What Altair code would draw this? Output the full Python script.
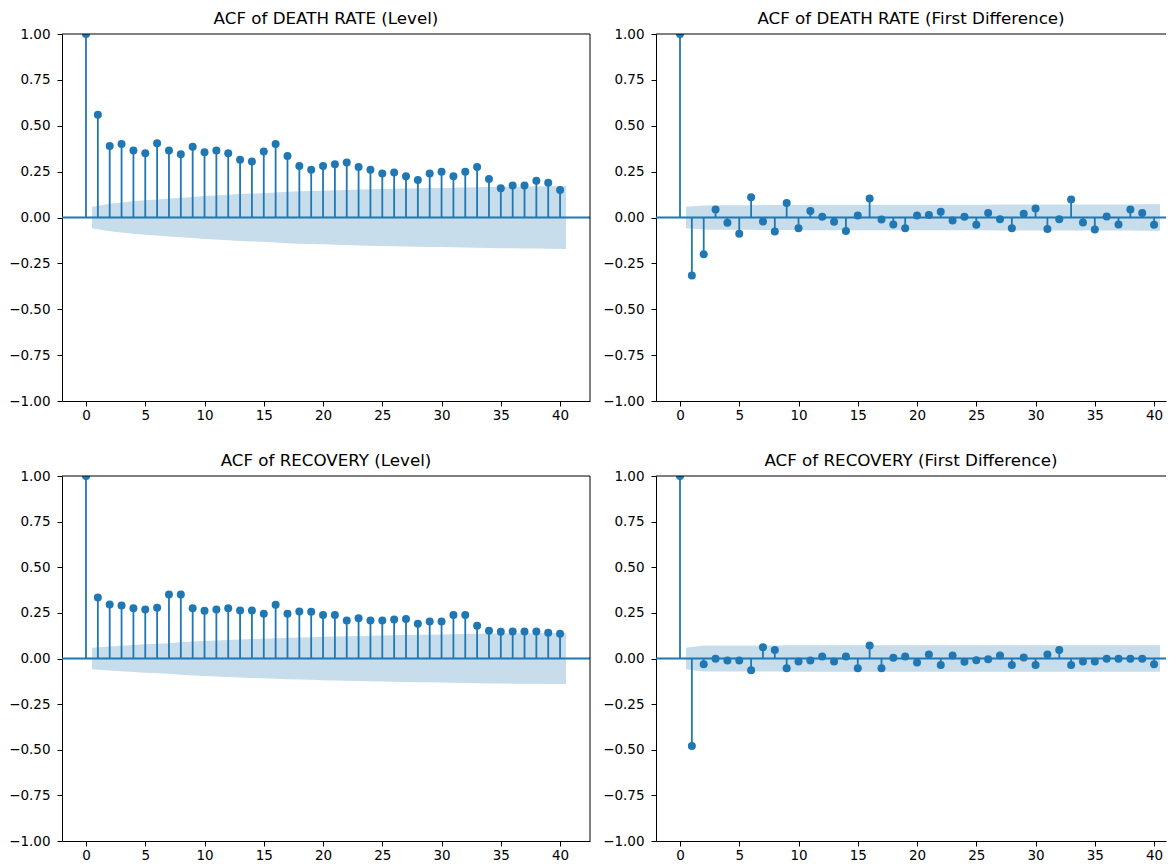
import altair as alt
import numpy as np
import pandas as pd

LAGS = list(range(41))
Y_TICKS = [-1.0, -0.75, -0.5, -0.25, 0.0, 0.25, 0.5, 0.75, 1.0]
X_TICKS = [0, 5, 10, 15, 20, 25, 30, 35, 40]
NOBS = 1100  # estimated sample size (from band width at lag 1)

TITLES = [
    "ACF of DEATH RATE (Level)",
    "ACF of DEATH RATE (First Difference)",
    "ACF of RECOVERY (Level)",
    "ACF of RECOVERY (First Difference)",
]

death_level = [1.0, 0.56, 0.39, 0.40, 0.365, 0.35, 0.405, 0.365, 0.345, 0.385,
               0.355, 0.365, 0.35, 0.315, 0.305, 0.36, 0.40, 0.335, 0.28, 0.26,
               0.28, 0.29, 0.30, 0.275, 0.26, 0.24, 0.245, 0.225, 0.205, 0.24,
               0.25, 0.225, 0.25, 0.275, 0.21, 0.16, 0.175, 0.175, 0.20, 0.19,
               0.15]

death_diff = [1.0, -0.316, -0.200, 0.043, -0.029, -0.089, 0.110, -0.022, -0.076, 0.079,
              -0.058, 0.036, 0.004, -0.023, -0.074, 0.011, 0.103, -0.011, -0.038, -0.058,
              0.011, 0.013, 0.031, -0.016, 0.004, -0.040, 0.025, -0.009, -0.058, 0.020,
              0.049, -0.063, -0.009, 0.098, -0.027, -0.065, 0.005, -0.038, 0.043, 0.025,
              -0.040]

recovery_level = [1.0, 0.334, 0.296, 0.290, 0.276, 0.268, 0.278, 0.351, 0.351, 0.276,
                  0.261, 0.268, 0.276, 0.263, 0.263, 0.245, 0.294, 0.245, 0.258, 0.256,
                  0.239, 0.239, 0.208, 0.221, 0.208, 0.208, 0.214, 0.216, 0.190, 0.203,
                  0.203, 0.239, 0.239, 0.179, 0.152, 0.146, 0.148, 0.148, 0.148, 0.141,
                  0.135]

recovery_diff = [1.0, -0.480, -0.031, -0.002, -0.011, -0.011, -0.064, 0.062, 0.046, -0.053,
                 -0.016, -0.011, 0.011, -0.016, 0.011, -0.053, 0.071, -0.053, 0.004, 0.011,
                 -0.022, 0.022, -0.035, 0.016, -0.018, -0.009, -0.004, 0.016, -0.035, 0.005,
                 -0.035, 0.022, 0.046, -0.035, -0.016, -0.016, -0.002, -0.002, -0.002, -0.002,
                 -0.031]

BLUE = "#1f77b4"
FONT = "DejaVu Sans"
XMIN = -2.025
XMAX_FULL = 42.525
PX_PER_LAG = 528 / (XMAX_FULL - XMIN)
LABEL_SIZE = 13.5
TITLE_SIZE = 16.7


def bartlett_band(values):
    r = np.array(values)
    xs, half = [], []
    for k in range(1, 41):
        var = (1 + 2 * np.sum(r[1:k] ** 2)) / NOBS
        h = 1.959964 * np.sqrt(var)
        x = k
        if k == 1:
            x = 0.5
        if k == 40:
            x = 40.5
        xs.append(x)
        half.append(h)
    return pd.DataFrame({"x": xs, "lo": [-h for h in half], "hi": half})


def panel(values, title, width, height, right_border):
    xmax = XMIN + width / PX_PER_LAG
    xs = alt.Scale(domain=[XMIN, xmax], nice=False, zero=False)
    ys = alt.Scale(domain=[-1, 1], nice=False, zero=False)
    xaxis = alt.Axis(values=X_TICKS, format="d", grid=False, tickSize=5, labelPadding=2,
                     domainColor="black", tickColor="black", labelColor="black",
                     labelFontSize=LABEL_SIZE, labelFont=FONT, title=None, labelFlush=False,
                     domainWidth=1, tickWidth=1)
    yaxis = alt.Axis(values=Y_TICKS, format=".2f", grid=False, tickSize=5, labelPadding=7,
                     domainColor="black", tickColor="black", labelColor="black",
                     labelFontSize=LABEL_SIZE, labelFont=FONT, title=None, labelFlush=False,
                     domainWidth=1, tickWidth=1)
    df = pd.DataFrame({"lag": LAGS, "acf": values})
    band_df = bartlett_band(values)

    band = alt.Chart(band_df).mark_area(color=BLUE, opacity=0.25, clip=True).encode(
        x=alt.X("x:Q", scale=xs, axis=xaxis),
        y=alt.Y("lo:Q", scale=ys, axis=yaxis),
        y2="hi:Q",
    )
    one = pd.DataFrame({"z": [0]})
    zero = alt.Chart(one).mark_rule(color=BLUE, strokeWidth=1.8).encode(
        y=alt.Y("z:Q", scale=ys), x=alt.value(0), x2=alt.value(width)
    )
    stems = alt.Chart(df).mark_rule(color=BLUE, strokeWidth=1.8, clip=True).encode(
        x=alt.X("lag:Q", scale=xs), y=alt.Y("acf:Q", scale=ys), y2=alt.datum(0)
    )
    pts = alt.Chart(df).mark_circle(color=BLUE, opacity=1, size=64, clip=True).encode(
        x=alt.X("lag:Q", scale=xs), y=alt.Y("acf:Q", scale=ys)
    )
    top = alt.Chart(one).mark_rule(color="black", strokeWidth=1).encode(
        y=alt.value(0), x=alt.value(0), x2=alt.value(width)
    )
    layers = [band, zero, stems, pts, top]
    if right_border:
        right = alt.Chart(one).mark_rule(color="black", strokeWidth=1).encode(
            x=alt.value(width), y=alt.value(0), y2=alt.value(height)
        )
        layers.append(right)
    return alt.layer(*layers).properties(
        width=width, height=height,
        title=alt.TitleParams(title, fontSize=TITLE_SIZE, font=FONT, fontWeight="normal",
                              color="black", offset=-1, anchor="middle", frame="group"),
    )


p1 = panel(death_level, TITLES[0], 528, 367, True)
p2 = panel(death_diff, TITLES[1], 510, 367, False)
p3 = panel(recovery_level, TITLES[2], 528, 365, True)
p4 = panel(recovery_diff, TITLES[3], 510, 365, False)

row1 = alt.hconcat(p1, p2, spacing=11)
row2 = alt.hconcat(p3, p4, spacing=11)
chart = alt.vconcat(row1, row2, spacing=31).properties(
    padding={"left": 0, "top": 3, "right": 0, "bottom": 0}
).configure_view(stroke=None)

chart.save("out.html", embed_options={"renderer": "svg", "actions": False})
